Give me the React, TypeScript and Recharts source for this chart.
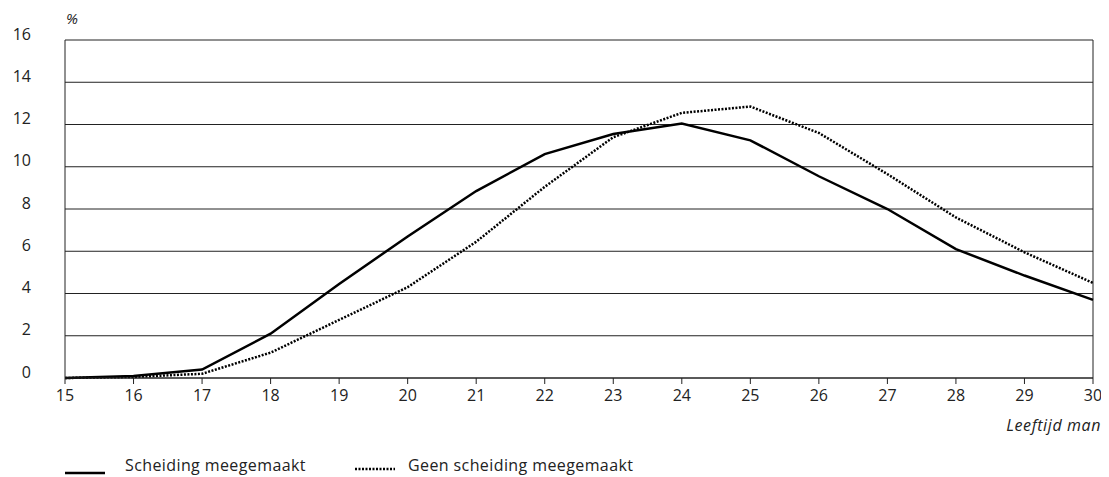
import { LineChart, Line, XAxis, YAxis, CartesianGrid, ReferenceLine } from "recharts";

const ages = [15, 16, 17, 18, 19, 20, 21, 22, 23, 24, 25, 26, 27, 28, 29, 30];
const scheiding = [0, 0.1, 0.4, 2.1, 4.45, 6.7, 8.85, 10.6, 11.55, 12.05, 11.25, 9.55, 8.0, 6.1, 4.85, 3.7];
const geenScheiding = [0, 0.05, 0.2, 1.2, 2.75, 4.3, 6.45, 9.05, 11.4, 12.55, 12.85, 11.6, 9.65, 7.6, 5.95, 4.5];
const yTicks = [0, 2, 4, 6, 8, 10, 12, 14, 16];

const data = ages.map((age, i) => ({
  age,
  scheiding: scheiding[i],
  geen: geenScheiding[i],
}));

const FONT = "'Open Sans', 'Noto Sans', sans-serif";
const TXT = "#222";

export default function App() {
  return (
    <div style={{ position: "relative", width: 1093, height: 469, fontFamily: FONT, color: TXT }}>
      <LineChart width={1093} height={469} data={data} margin={{ top: 32, right: 8, left: 0, bottom: 69 }}>
        <CartesianGrid horizontal vertical={false} stroke="#222" strokeOpacity={1} />
        <XAxis
          dataKey="age"
          type="number"
          domain={[15, 30]}
          ticks={ages}
          interval={0}
          axisLine={{ stroke: "#222" }}
          tickLine={{ stroke: "#222" }}
          tickSize={6}
          tick={{ fill: TXT, fontSize: 16, fontFamily: FONT, dy: 4 }}
          height={30}
        />
        <YAxis
          domain={[0, 16]}
          ticks={yTicks}
          width={57}
          axisLine={{ stroke: "#222" }}
          tickLine={false}
          tick={{ fill: TXT, fontSize: 16, fontFamily: FONT, dx: -26, dy: -6 }}
        />
        <ReferenceLine x={30} stroke="#222" />
        <Line
          type="linear"
          dataKey="scheiding"
          stroke="#000"
          strokeWidth={2.5}
          dot={false}
          isAnimationActive={false}
        />
        <Line
          type="linear"
          dataKey="geen"
          stroke="#000"
          strokeWidth={2.5}
          strokeDasharray="2 1.5"
          dot={false}
          isAnimationActive={false}
        />
      </LineChart>
      <div style={{ position: "absolute", left: 58, top: 0, fontSize: 15, fontStyle: "italic", zIndex: 2 }}>%</div>
      <div style={{ position: "absolute", right: 0, top: 406, fontSize: 16, fontStyle: "italic", letterSpacing: 0.6, zIndex: 2 }}>
        Leeftijd man
      </div>
      {/* legend */}
      <div style={{ position: "absolute", left: 0, top: 445, width: 700, height: 24, fontSize: 16, letterSpacing: 0.4, whiteSpace: "nowrap", zIndex: 2 }}>
        <svg width={40} height={10} style={{ position: "absolute", left: 57, top: 15 }}>
          <line x1={0} y1={5} x2={40} y2={5} stroke="#000" strokeWidth={2.5} />
        </svg>
        <span style={{ position: "absolute", left: 117, top: 0, lineHeight: "24px" }}>Scheiding meegemaakt</span>
        <svg width={40} height={10} style={{ position: "absolute", left: 347, top: 11 }}>
          <line x1={0} y1={5} x2={40} y2={5} stroke="#000" strokeWidth={2.5} strokeDasharray="2 1.5" />
        </svg>
        <span style={{ position: "absolute", left: 400, top: 0, lineHeight: "24px" }}>Geen scheiding meegemaakt</span>
      </div>
    </div>
  );
}
